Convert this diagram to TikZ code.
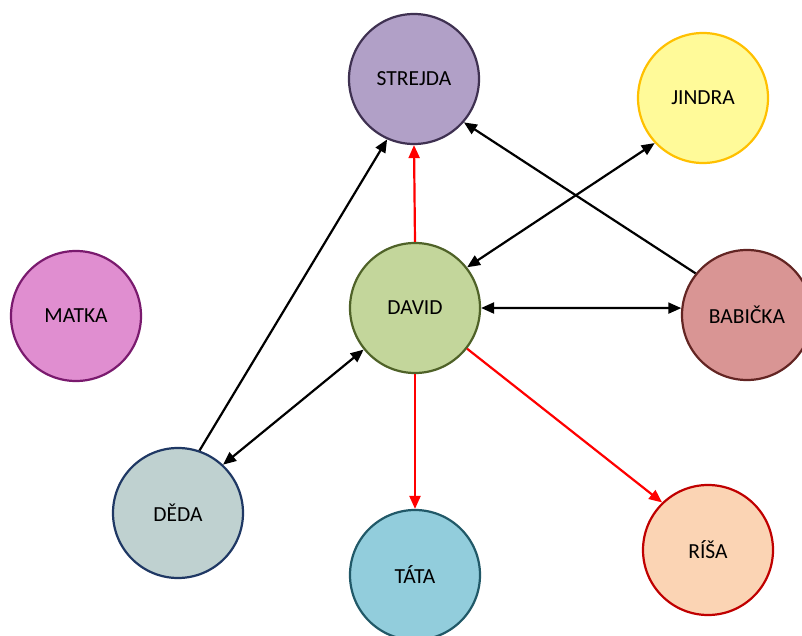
\documentclass[tikz,border=0pt]{standalone}
\usepackage{fontspec}
\setmainfont{Carlito}
\usetikzlibrary{arrows.meta}
\definecolor{strF}{HTML}{B1A0C7}\definecolor{strD}{HTML}{3F3151}
\definecolor{jinF}{HTML}{FFFA99}\definecolor{jinD}{HTML}{FFC000}
\definecolor{davF}{HTML}{C3D69B}\definecolor{davD}{HTML}{4F6228}
\definecolor{matF}{HTML}{E08ED0}\definecolor{matD}{HTML}{7A1A6E}
\definecolor{babF}{HTML}{D99594}\definecolor{babD}{HTML}{632523}
\definecolor{dedF}{HTML}{BFD1D0}\definecolor{dedD}{HTML}{1F3864}
\definecolor{tatF}{HTML}{92CDDC}\definecolor{tatD}{HTML}{215968}
\definecolor{risF}{HTML}{FBD4B4}\definecolor{risD}{HTML}{C00000}
\tikzset{
  person/.style={circle, minimum size=130pt, inner sep=0pt, line width=2.2pt,
    font=\fontsize{21.5}{25}\selectfont, text=black},
  link/.style={line width=2.2pt, black, -{Triangle[length=13pt,width=11pt]}},
  dlink/.style={line width=2.2pt, black, {Triangle[length=13pt,width=11pt]}-{Triangle[length=13pt,width=11pt]}},
  rlink/.style={line width=2.2pt, red, -{Triangle[length=13pt,width=11pt]}}
}
\begin{document}
\begin{tikzpicture}[x=1pt,y=-1pt]
\useasboundingbox (0,0) rectangle (802,636);
\clip (0,0) rectangle (802,636);
\fill[white] (0,0) rectangle (802,636);
\node[person, fill=strF, draw=strD] (str) at (414,79) {STREJDA};
\node[person, fill=jinF, draw=jinD] (jin) at (703,98) {JINDRA};
\node[person, fill=davF, draw=davD] (dav) at (415,308) {DAVID};
\node[person, fill=matF, draw=matD] (mat) at (76,316) {MATKA};
\node[person, fill=babF, draw=babD] (bab) at (747,315) {BABIČKA};
\node[person, fill=dedF, draw=dedD] (ded) at (178,513) {DĚDA};
\node[person, fill=tatF, draw=tatD] (tat) at (415,575) {TÁTA};
\node[person, fill=risF, draw=risD] (ris) at (708,550) {RÍŠA};
\draw[link] (ded.71) -- (str.246);
\draw[dlink] (dav.219) -- (ded.47);
\draw[rlink] (dav.north) -- (str.south);
\draw[link] (bab.141) -- (str.-41);
\draw[dlink] (dav.38) -- (jin.223);
\draw[dlink] (dav.east) -- (bab.174);
\draw[rlink] (dav.south) -- (tat.north);
\draw[rlink] (dav.-38) -- (ris.134);
\end{tikzpicture}
\end{document}
